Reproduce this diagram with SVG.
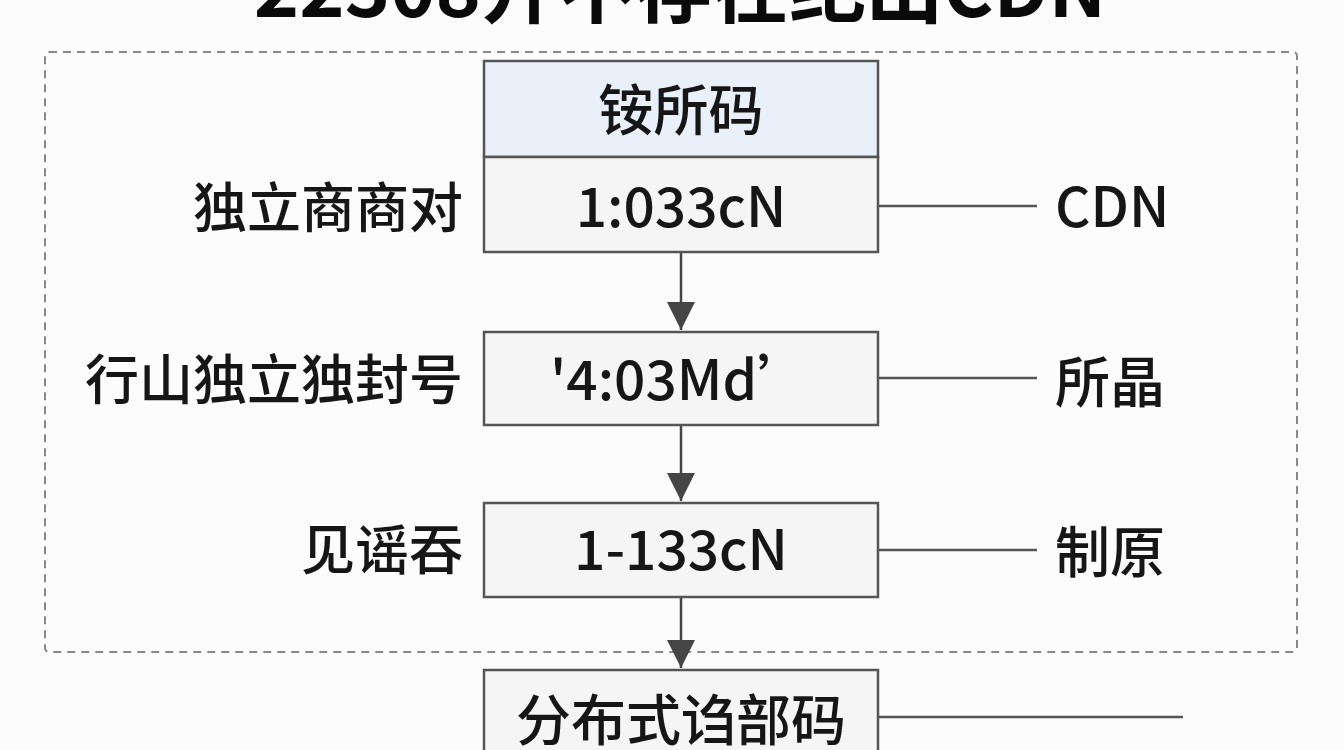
<svg xmlns="http://www.w3.org/2000/svg" width="1344" height="750" viewBox="0 0 1344 750">
<defs>
<marker id="arr" markerUnits="userSpaceOnUse" markerWidth="30" markerHeight="28" refX="28" refY="14" orient="auto" viewBox="0 0 30 28">
<path d="M0,0 L28,14 L0,28 Z" fill="#454545"/>
</marker>
</defs>
<style>
.t{font-family:"Noto Sans CJK SC","Noto Sans",sans-serif;fill:#161616;font-size:55px;font-weight:500}
.title{font-size:77px;font-weight:700;fill:#0a0a0a}
.lbl{font-size:54px}
.box{fill:#f5f5f5;stroke:#555;stroke-width:2.5}
.hdr{fill:#e9f0fa;stroke:#555;stroke-width:2.5}
.ln{stroke:#555;stroke-width:2.5;fill:none}
.ar{stroke:#454545;stroke-width:2.5;fill:none}
</style>
<rect width="1344" height="750" fill="#fcfcfc"/>
<text class="t title" x="680" y="17" text-anchor="middle">22308开不存在纪出CDN</text>
<rect id="region" x="45" y="52" width="1252" height="600" rx="4" fill="none" stroke="#888" stroke-width="2" stroke-dasharray="8 6"/>
<g id="connectors">
<line class="ar" x1="681" y1="252" x2="681" y2="330" marker-end="url(#arr)"/>
<line class="ar" x1="681" y1="425" x2="681" y2="501" marker-end="url(#arr)"/>
<line class="ar" x1="681" y1="597" x2="681" y2="668" marker-end="url(#arr)"/>
<line class="ln" x1="878" y1="206" x2="1037" y2="206"/>
<line class="ln" x1="878" y1="378" x2="1037" y2="378"/>
<line class="ln" x1="878" y1="550" x2="1037" y2="550"/>
<line class="ln" x1="878" y1="717" x2="1183" y2="717"/>
</g>
<g id="node1">
<rect class="hdr" x="484" y="61" width="394" height="96"/>
<rect class="box" x="484" y="157" width="394" height="95"/>
<text class="t" x="681" y="130" text-anchor="middle">铵所码</text>
<text class="t" x="681" y="227" text-anchor="middle">1:033cN</text>
</g>
<g id="node2">
<rect class="box" x="484" y="332" width="394" height="93"/>
<text class="t" x="681" y="400" text-anchor="middle">'4:03Md’</text>
</g>
<g id="node3">
<rect class="box" x="484" y="503" width="394" height="94"/>
<text class="t" x="681" y="570" text-anchor="middle">1-133cN</text>
</g>
<g id="node4">
<rect class="box" x="484" y="670" width="394" height="100"/>
<text class="t" x="681" y="740" text-anchor="middle">分布式诌部码</text>
</g>
<g id="labels-left">
<text class="t lbl" x="463" y="228" text-anchor="end">独立商商对</text>
<text class="t lbl" x="463" y="400" text-anchor="end">行山独立独封号</text>
<text class="t lbl" x="463" y="570" text-anchor="end">见谣吞</text>
</g>
<g id="labels-right">
<text class="t" x="1055" y="227">CDN</text>
<text class="t" x="1055" y="402">所晶</text>
<text class="t" x="1055" y="572">制原</text>
</g>
</svg>
